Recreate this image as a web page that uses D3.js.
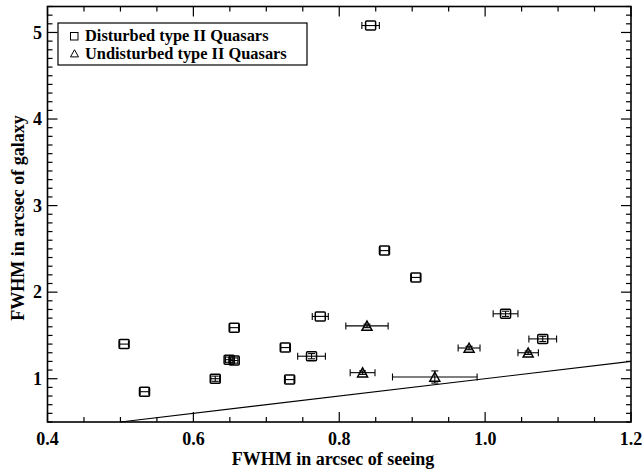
<!DOCTYPE html>
<html>
<head>
<meta charset="utf-8">
<script src="https://cdn.jsdelivr.net/npm/d3@7"></script>
<style>
  html, body { margin: 0; padding: 0; background: #fff; }
  svg { display: block; }
  text { font-family: "Liberation Serif", "Times New Roman", serif; font-weight: bold; fill: #000; }
</style>
</head>
<body>
<svg id="chart" width="644" height="472"></svg>
<script>
// ---- data ----
const disturbedX    = [0.505, 0.533, 0.630, 0.649, 0.656, 0.656, 0.726, 0.732, 0.762, 0.774, 0.843, 0.862, 0.905, 1.028, 1.079];
const disturbedY    = [1.40, 0.85, 1.00, 1.22, 1.21, 1.59, 1.36, 0.99, 1.26, 1.72, 5.08, 2.48, 2.17, 1.75, 1.46];
const disturbedXErr = [0.006, 0.006, 0.006, 0.005, 0.005, 0.006, 0.006, 0.006, 0.019, 0.011, 0.012, 0.006, 0.006, 0.017, 0.019];
const disturbedYErr = [0.0, 0.0, 0.03, 0.03, 0.03, 0.0, 0.0, 0.0, 0.03, 0.0, 0.0, 0.0, 0.0, 0.03, 0.03];

const undisturbedX    = [0.838, 0.832, 0.931, 0.978, 1.059];
const undisturbedY    = [1.61, 1.07, 1.02, 1.355, 1.30];
const undisturbedXErr = [0.029, 0.017, 0.058, 0.015, 0.014];
const undisturbedYErr = [0.02, 0.02, 0.07, 0.02, 0.02];

const oneToOneLine = [0.5, 1.2];

const xMajorTicks = [0.4, 0.6, 0.8, 1.0, 1.2];
const xTickLabels = ["0.4", "0.6", "0.8", "1.0", "1.2"];
const yMajorTicks = [1, 2, 3, 4, 5];
const yTickLabels = ["1", "2", "3", "4", "5"];

const legendLabels = ["Disturbed type II Quasars", "Undisturbed type II Quasars"];
const xTitle = "FWHM in arcsec of seeing";
const yTitle = "FWHM in arcsec of galaxy";

// ---- layout ----
const L = 47.5, R = 631, T = 6.5, B = 422;
const svg = d3.select("#chart");
const x = d3.scaleLinear().domain([0.4, 1.2]).range([L, R]);
const y = d3.scaleLinear().domain([0.5, 5.3]).range([B, T]);

const disturbed = disturbedX.map((v, i) => ({x: v, y: disturbedY[i], ex: disturbedXErr[i], ey: disturbedYErr[i]}));
const undisturbed = undisturbedX.map((v, i) => ({x: v, y: undisturbedY[i], ex: undisturbedXErr[i], ey: undisturbedYErr[i]}));

// ticks (inward, mirrored on all sides)
const xMinor = d3.range(0.4, 1.2001, 0.05).map(v => +v.toFixed(3)).filter(v => !xMajorTicks.some(m => Math.abs(m - v) < 1e-6));
const yMinor = d3.range(0.5, 5.3001, 0.1).map(v => +v.toFixed(3)).filter(v => !yMajorTicks.some(m => Math.abs(m - v) < 1e-6));

const axes = svg.append("g").attr("stroke", "#000").attr("stroke-width", 1.2);
const addXTicks = (vals, len) => {
  vals.forEach(v => {
    axes.append("line").attr("x1", x(v)).attr("x2", x(v)).attr("y1", B).attr("y2", B - len);
    axes.append("line").attr("x1", x(v)).attr("x2", x(v)).attr("y1", T).attr("y2", T + len);
  });
};
const addYTicks = (vals, len) => {
  vals.forEach(v => {
    axes.append("line").attr("x1", L).attr("x2", L + len).attr("y1", y(v)).attr("y2", y(v));
    axes.append("line").attr("x1", R).attr("x2", R - len).attr("y1", y(v)).attr("y2", y(v));
  });
};
addXTicks(xMajorTicks, 10);
addXTicks(xMinor, 5);
addYTicks(yMajorTicks, 10);
addYTicks(yMinor, 5);

axes.append("rect").attr("x", L).attr("y", T).attr("width", R - L).attr("height", B - T)
  .attr("fill", "none").attr("stroke-width", 1.6);

// tick labels
svg.append("g").selectAll("text").data(xMajorTicks).join("text")
  .attr("x", d => x(d)).attr("y", 445).attr("text-anchor", "middle")
  .attr("font-size", 18).text((d, i) => xTickLabels[i]);
svg.append("g").selectAll("text").data(yMajorTicks).join("text")
  .attr("x", 42).attr("y", d => y(d)).attr("dy", "0.34em").attr("text-anchor", "end")
  .attr("font-size", 18).text((d, i) => yTickLabels[i]);

// axis titles
svg.append("text").attr("x", 333).attr("y", 465).attr("text-anchor", "middle")
  .attr("font-size", 18).text(xTitle);
svg.append("text").attr("transform", "translate(24,218) rotate(-90)").attr("text-anchor", "middle")
  .attr("font-size", 18).text(yTitle);

// 1:1 line
svg.append("line")
  .attr("x1", x(oneToOneLine[0])).attr("y1", y(oneToOneLine[0]))
  .attr("x2", x(oneToOneLine[1])).attr("y2", y(oneToOneLine[1]))
  .attr("stroke", "#000").attr("stroke-width", 1.1);

// error bars
const cap = 3.5;
function drawErr(g, data) {
  data.forEach(d => {
    const cx = x(d.x), cy = y(d.y);
    const x0 = x(d.x - d.ex), x1 = x(d.x + d.ex);
    g.append("line").attr("x1", x0).attr("x2", x1).attr("y1", cy).attr("y2", cy);
    g.append("line").attr("x1", x0).attr("x2", x0).attr("y1", cy - cap).attr("y2", cy + cap);
    g.append("line").attr("x1", x1).attr("x2", x1).attr("y1", cy - cap).attr("y2", cy + cap);
    if (d.ey > 0) {
      const y0 = y(d.y - d.ey), y1 = y(d.y + d.ey);
      g.append("line").attr("x1", cx).attr("x2", cx).attr("y1", y0).attr("y2", y1);
      g.append("line").attr("x1", cx - cap).attr("x2", cx + cap).attr("y1", y1).attr("y2", y1);
      g.append("line").attr("x1", cx - cap).attr("x2", cx + cap).attr("y1", y0).attr("y2", y0);
    }
  });
}
const errG = svg.append("g").attr("stroke", "#000").attr("stroke-width", 1.1);
drawErr(errG, disturbed);
drawErr(errG, undisturbed);

// markers
svg.append("g").selectAll("rect").data(disturbed).join("rect")
  .attr("x", d => x(d.x) - 5).attr("y", d => y(d.y) - 4.5)
  .attr("width", 10).attr("height", 9).attr("rx", 1)
  .attr("fill", "none").attr("stroke", "#000").attr("stroke-width", 1.5);

const tri = (cx, cy, s) => `M${cx - s},${cy + s * 0.85}L${cx + s},${cy + s * 0.85}L${cx},${cy - s * 0.95}Z`;
svg.append("g").selectAll("path").data(undisturbed).join("path")
  .attr("d", d => tri(x(d.x), y(d.y), 5))
  .attr("fill", "none").attr("stroke", "#000").attr("stroke-width", 1.5);

// legend
const lg = svg.append("g");
lg.append("rect").attr("x", 58).attr("y", 23).attr("width", 249).attr("height", 42)
  .attr("fill", "#fff").attr("stroke", "#000").attr("stroke-width", 1.2);
lg.append("rect").attr("x", 70.5).attr("y", 32.5).attr("width", 7.5).attr("height", 7.5)
  .attr("fill", "none").attr("stroke", "#000").attr("stroke-width", 1);
lg.append("path").attr("d", tri(74.5, 53.5, 4)).attr("fill", "none").attr("stroke", "#000").attr("stroke-width", 1);
lg.selectAll("text").data(legendLabels).join("text")
  .attr("x", 85).attr("y", (d, i) => 40.5 + i * 18).attr("font-size", 16.4).text(d => d);
</script>
</body>
</html>
